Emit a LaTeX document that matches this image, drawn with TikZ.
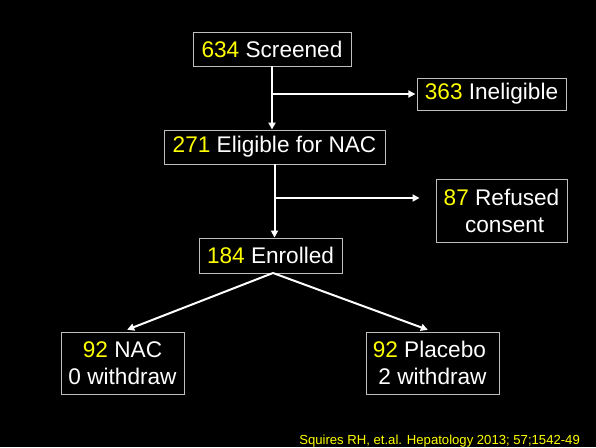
\documentclass[tikz,border=0pt]{standalone}
\usepackage{fontspec}
\setmainfont{Liberation Sans}
\usetikzlibrary{arrows.meta,positioning}
\definecolor{NumYellow}{RGB}{255,255,0}
\definecolor{EdgeGray}{RGB}{190,190,190}
\newcommand{\num}[1]{\textcolor{NumYellow}{#1}}

\begin{document}
\begin{tikzpicture}[
            x=0.03cm, y=-0.03cm,
            box/.style={draw=EdgeGray, line width=0.8pt, inner sep=0pt, align=center, text=white, font=\fontsize{19.3}{23}\selectfont},
            arr/.style={-{Triangle[length=6pt,width=6pt]}, white, line width=1.7pt}
        ]
            \fill[black] (0,0) rectangle (596,447);
            \useasboundingbox (0,0) rectangle (596,447);
            \node[box, minimum width=4.74cm, minimum height=1.02cm] (screened)   at (272,49)      {\num{634} Screened};
            \node[box, minimum width=4.47cm, minimum height=0.96cm] (ineligible) at (491.5,94)    {\num{363} Ineligible};
            \node[box, minimum width=6.63cm, minimum height=1.02cm] (eligible)   at (274.5,147)   {\num{271} Eligible for NAC};
            \node[box, minimum width=3.93cm, minimum height=1.89cm] (refused)    at (501.5,210.5) {\num{87} Refused\\\hspace*{0.28em}consent};
            \node[box, minimum width=4.29cm, minimum height=1.05cm] (enrolled)   at (270.5,255.5) {\num{184} Enrolled};
            \node[box, minimum width=3.69cm, minimum height=1.86cm] (nac)        at (122.5,363)   {\num{92} NAC\\0 withdraw};
            \node[box, minimum width=3.99cm, minimum height=1.86cm] (placebo)    at (432.5,363)   {\num{92} Placebo\hspace*{0.28em}\\2 withdraw};
            \node[anchor=base east, text=NumYellow, font=\fontsize{11.2}{13}\selectfont] (cite) at (584,444) {Squires RH, et.al. Hepatology 2013; 57;1542-49};
            \coordinate (refjoin) at (274.5,198);
            \coordinate (apex) at (273,273);
            \draw[arr] (screened.south) -- (screened.south |- eligible.north);
            \draw[arr, shorten >=1pt] (screened.south |- ineligible.west) -- (ineligible.west);
            \draw[arr] (eligible.south) -- (eligible.south |- enrolled.north);
            \draw[arr, shorten >=0.48cm] (refjoin) -- (refjoin -| refused.west);
            \draw[arr, shorten >=0.15cm] (apex) -- (nac.north);
            \draw[arr, shorten >=0.15cm] (apex) -- (placebo.north);
        \end{tikzpicture}
\end{document}
